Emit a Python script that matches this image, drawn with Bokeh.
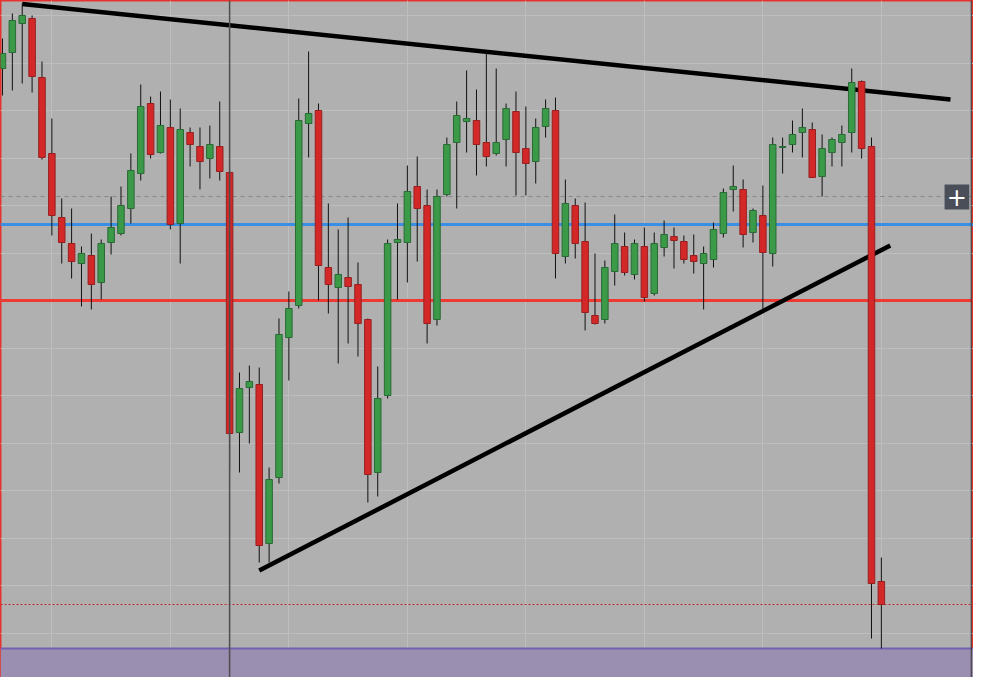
from bokeh.plotting import figure
from bokeh.models import Range1d, Span, BoxAnnotation, ColumnDataSource, FixedTicker, Label
from bokeh.embed import file_html
from bokeh.resources import INLINE

# ---- candle data (price units) ----
open_prices = [632, 648, 677, 682, 623, 547, 483, 457, 437, 445,
               418, 458, 467, 492, 527, 597, 548, 573, 477, 568,
               554, 542, 554, 528, 268, 313, 316, 157, 223, 363,
               395, 577, 590, 433, 413, 423, 416, 381, 228, 305,
               458, 458, 514, 495, 381, 506, 558, 579, 580, 558,
               547, 561, 589, 552, 539, 574, 590, 444, 495, 459,
               385, 381, 429, 454, 426, 454, 407, 453, 464, 459,
               445, 437, 441, 467, 511, 511, 468, 485, 447, 553,
               556, 568, 571, 524, 548, 558, 568, 619, 554, 119]
high_prices = [662, 687, 697, 685, 639, 582, 502, 492, 454, 467,
               461, 504, 514, 547, 616, 604, 609, 601, 592, 573,
               573, 575, 599, 532, 328, 335, 333, 233, 382, 409,
               602, 649, 597, 497, 471, 483, 438, 382, 334, 461,
               497, 535, 544, 511, 511, 563, 599, 630, 611, 649,
               632, 597, 609, 594, 582, 601, 603, 521, 502, 498,
               447, 440, 486, 468, 461, 473, 468, 480, 473, 465,
               466, 454, 478, 512, 535, 521, 492, 515, 563, 563,
               580, 592, 578, 566, 563, 575, 632, 620, 563, 143]
low_prices = [605, 610, 617, 608, 541, 465, 437, 422, 394, 391,
              401, 446, 465, 477, 520, 542, 547, 471, 437, 534,
              511, 522, 520, 230, 228, 257, 138, 138, 217, 320,
              392, 543, 400, 387, 337, 357, 344, 198, 204, 302,
              401, 418, 439, 357, 375, 504, 492, 548, 525, 534,
              545, 534, 505, 505, 517, 563, 422, 437, 442, 370,
              376, 377, 415, 425, 421, 399, 405, 444, 432, 437,
              427, 391, 433, 463, 489, 453, 458, 391, 434, 527,
              548, 543, 523, 504, 534, 534, 548, 542, 62, 52]
close_prices = [647, 680, 685, 624, 543, 485, 458, 439, 447, 416,
                457, 473, 495, 530, 594, 546, 575, 476, 571, 556,
                539, 556, 529, 267, 312, 319, 155, 221, 366, 392,
                580, 587, 435, 416, 426, 414, 377, 226, 302, 457,
                461, 509, 492, 377, 504, 556, 585, 582, 556, 544,
                558, 592, 548, 537, 573, 592, 447, 497, 457, 388,
                377, 433, 457, 428, 457, 403, 457, 466, 460, 441,
                439, 447, 471, 508, 514, 466, 490, 448, 556, 554,
                566, 573, 523, 552, 561, 566, 618, 552, 117, 96]

# ---- drawn levels / lines ----
level_dashed = 504
level_blue = 476
level_red = 400
level_last = 96
zone_top = 52
cursor_bar = 23
upper_trend_x = [2.0, 96.0]
upper_trend_y = [696.5, 601]
lower_trend_x = [26.0, 89.9]
lower_trend_y = [130, 455]
grid_bars = [5, 17, 29, 41, 53, 65, 77, 89]
grid_prices = [20, 67.5, 115, 162.5, 210, 257.5, 305, 352.5, 400,
               447.5, 495, 542.5, 590, 637.5, 685]

idx = list(range(len(open_prices)))
up = [c >= o for o, c in zip(open_prices, close_prices)]
src = ColumnDataSource(dict(
    x=idx,
    top=[max(o, c) for o, c in zip(open_prices, close_prices)],
    bottom=[min(o, c) for o, c in zip(open_prices, close_prices)],
    high=high_prices,
    low=low_prices,
    fill=["#3a9a48" if u else "#d42828" for u in up],
    edge=["#2a6a36" if u else "#962020" for u in up],
))

BG = "#b0b0b0"
p = figure(width=973, height=677, output_backend="svg", toolbar_location=None,
           x_range=Range1d(-0.2, 98.33), y_range=Range1d(23, 700),
           min_border=0, background_fill_color=BG, border_fill_color=BG,
           outline_line_color="#e5322d", outline_line_width=2)
p.xaxis.visible = False
p.yaxis.visible = False
p.xgrid.ticker = FixedTicker(ticks=grid_bars)
p.ygrid.ticker = FixedTicker(ticks=grid_prices)
p.grid.grid_line_color = "#bebebe"
p.grid.grid_line_width = 1

# zone at bottom
p.add_layout(BoxAnnotation(top=zone_top, fill_color="#9b8fb1", fill_alpha=1,
                           line_color=None, level="underlay"))
p.add_layout(Span(location=zone_top, dimension="width", line_color="#7760b2",
                  line_width=2, level="underlay"))
# horizontal levels
p.add_layout(Span(location=level_dashed, dimension="width", line_color="#858585",
                  line_width=1, line_dash="4 4", level="underlay"))
p.add_layout(Span(location=level_blue, dimension="width", line_color="#3a8fe4",
                  line_width=3, level="underlay"))
p.add_layout(Span(location=level_red, dimension="width", line_color="#ee3a33",
                  line_width=3, level="underlay"))
p.add_layout(Span(location=level_last, dimension="width", line_color="#c0282a",
                  line_width=1, line_dash="2 2", level="underlay"))

# trend lines
p.line(upper_trend_x, upper_trend_y, line_color="black", line_width=4.5)
p.line(lower_trend_x, lower_trend_y, line_color="black", line_width=4.5)

# candles
p.segment(x0="x", y0="low", x1="x", y1="high", source=src,
          line_color="#111111", line_width=1)
p.vbar(x="x", top="top", bottom="bottom", width=0.66, source=src,
       fill_color="fill", line_color="edge", line_width=1)

# crosshair vertical line
p.add_layout(Span(location=cursor_bar, dimension="height", line_color="#4e4e4e",
                  line_width=1.5))
# right price-axis edge
p.add_layout(Span(location=98.1, dimension="height", line_color="#333333",
                  line_width=1))

# "+" button
p.add_layout(BoxAnnotation(left=95.4, right=97.9, bottom=491, top=516,
                           fill_color="#4a4e59", fill_alpha=1, line_color=None))
p.add_layout(Label(x=96.65, y=503.5, text="+", text_color="white",
                   text_font_size="24px", text_align="center",
                   text_baseline="middle", text_font="DejaVu Sans"))

open("out.html", "w").write(file_html(p, INLINE))
